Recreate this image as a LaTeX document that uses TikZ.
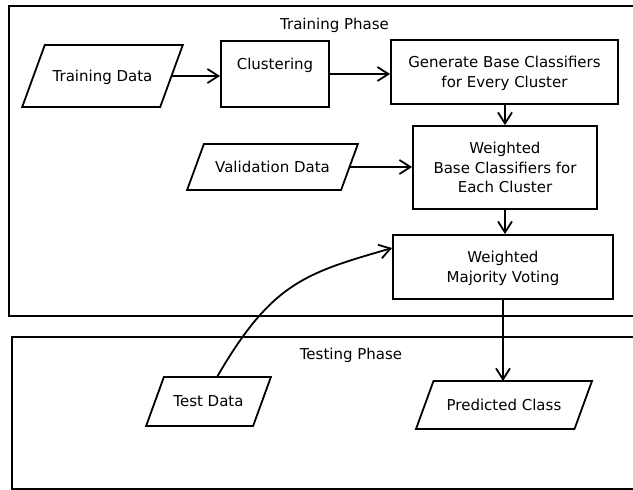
\documentclass[tikz,border=0pt]{standalone}
\usepackage{fontspec}
\setmainfont{DejaVu Sans}
\usetikzlibrary{arrows.meta}
\begin{document}
\begin{tikzpicture}[x=1pt,y=-1pt,
  every node/.style={font=\fontsize{15}{19.5}\selectfont, text depth=0pt},
  frame/.style={draw, line width=1.8pt},
  box/.style={draw, line width=1.8pt, rectangle, inner sep=0pt, align=center},
  io/.style={rectangle, inner sep=0pt, outer sep=0pt, align=center},
  conn/.style={line width=1.8pt, -{Straight Barb[length=11pt,width=14pt]}}]
\useasboundingbox (0,0) rectangle (633,490);
\clip (0,0) rectangle (633,490);
% phase frames
\draw[frame] (9,6) rectangle (660,316);
\draw[frame] (12,337) rectangle (660,489);
\node (trl) at (334.5,24) {Training Phase};
\node (tsl) at (351,354) {Testing Phase};
% nodes
\node[io, minimum width=138pt, minimum height=62pt] (td) at (102.5,76) {Training Data};
\draw[frame] ([xshift=11.3pt]td.north west) -- ([xshift=11.3pt]td.north east)
  -- ([xshift=-11.3pt]td.south east) -- ([xshift=-11.3pt]td.south west) -- cycle;
\node[box, minimum width=108pt, minimum height=66pt] (cl) at (275,74) {Clustering\\\strut};
\node[box, minimum width=227pt, minimum height=64pt] (gen) at (504.5,72) {Generate Base Classifiers\\for Every Cluster};
\node[box, minimum width=184pt, minimum height=83pt] (wbc) at (505,167.5) {Weighted\\Base Classifiers for\\Each Cluster};
\node[box, minimum width=220pt, minimum height=64pt] (maj) at (503,267) {Weighted\\Majority Voting};
\node[io, minimum width=154pt, minimum height=46pt] (val) at (272.5,167) {Validation Data};
\draw[frame] ([xshift=8.4pt]val.north west) -- ([xshift=8.4pt]val.north east)
  -- ([xshift=-8.4pt]val.south east) -- ([xshift=-8.4pt]val.south west) -- cycle;
\node[io, minimum width=107pt, minimum height=49pt] (test) at (208.5,401.5) {Test Data};
\draw[frame] ([xshift=8.9pt]test.north west) -- ([xshift=8.9pt]test.north east)
  -- ([xshift=-8.9pt]test.south east) -- ([xshift=-8.9pt]test.south west) -- cycle;
\node[io, minimum width=158.5pt, minimum height=48pt] (pred) at (504,405) {Predicted Class};
\draw[frame] ([xshift=8.75pt]pred.north west) -- ([xshift=8.75pt]pred.north east)
  -- ([xshift=-8.75pt]pred.south east) -- ([xshift=-8.75pt]pred.south west) -- cycle;
% connectors
\draw[conn] (td.east) -- (td.east -| cl.west);
\draw[conn] (cl.east) -- (cl.east -| gen.west);
\draw[conn] (wbc.north |- gen.south) -- (wbc.north);
\draw[conn] (val.east) -- (val.east -| wbc.west);
\draw[conn] (wbc.south) -- (wbc.south |- maj.north);
\draw[conn] (maj.south) -- (maj.south |- pred.north);
\draw[conn] ([xshift=8.5pt]test.north) .. controls +(55,-95) and +(-86,25) .. ([yshift=19pt]maj.west);
\end{tikzpicture}
\end{document}
